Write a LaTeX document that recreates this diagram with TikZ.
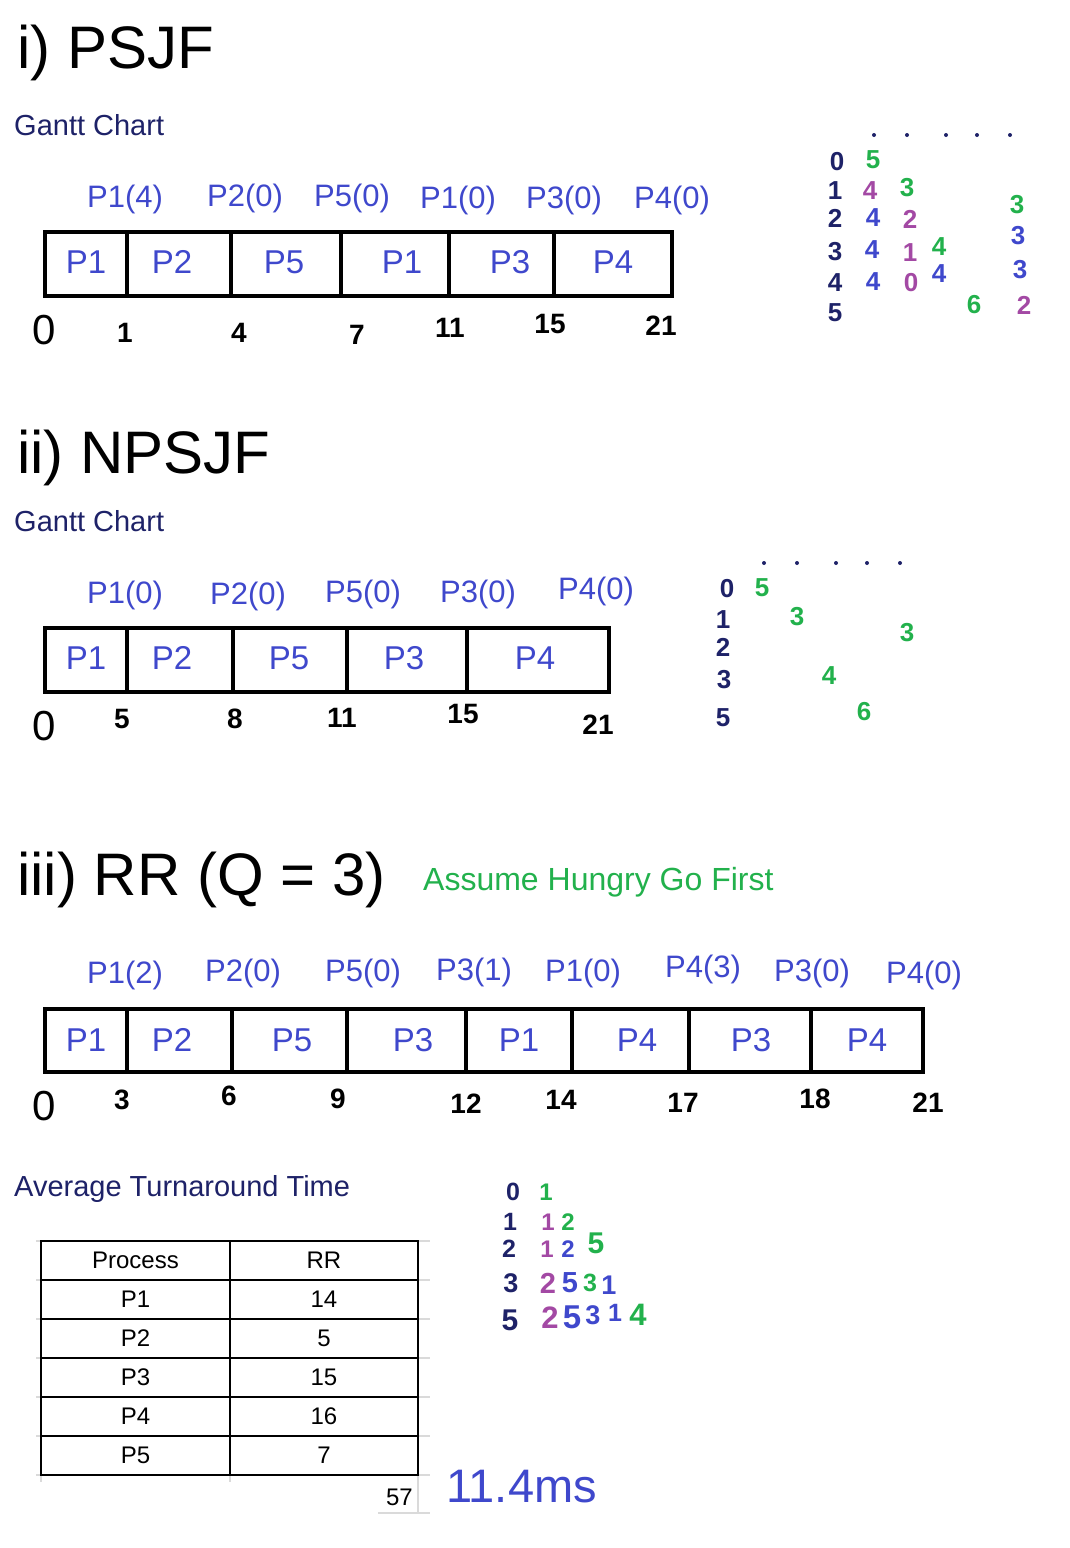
\documentclass[tikz,border=0pt]{standalone}
\usepackage{fontspec}
\setmainfont{Liberation Sans}
\definecolor{hblue}{RGB}{63,72,204}
\definecolor{navy}{RGB}{30,34,104}
\definecolor{hgreen}{RGB}{34,177,76}
\definecolor{hpurple}{RGB}{163,73,164}
\definecolor{gridgrey}{RGB}{218,218,218}
\newcommand\setfs[1]{\fontsize{#1}{#1}\selectfont}
\begin{document}
\begin{tikzpicture}[x=1pt,y=-1pt,
  titletext/.style={anchor=base west, inner sep=0, font=\setfs{60}},
  subtext/.style={anchor=base west, inner sep=0, text=navy, font=\setfs{29}},
  above/.style={inner sep=0, text=hblue, font=\setfs{31}},
  cell/.style={inner sep=0, text=hblue, font=\setfs{33}},
  ticklbl/.style={inner sep=0, font=\setfs{28}\bfseries},
  zero/.style={inner sep=0, font=\setfs{42}},
  dig/.style={inner sep=0, font=\setfs{26}\bfseries},
  gbox/.style={draw=black, line width=4.5pt},
  dotn/.style={circle, fill=navy, inner sep=0, minimum size=4pt},
  tabtext/.style={inner sep=0, font=\setfs{24}},
  tline/.style={line width=2pt},
  gline/.style={gridgrey, line width=1.5pt}]
\useasboundingbox[fill=white] (0,0) rectangle (1070,1548);

% ---------------- i) PSJF ----------------
\node[titletext] (t1) at (17,68) {i) PSJF};
\node[subtext] (s1) at (14,135) {Gantt Chart};
\foreach \t/\x/\y [count=\i] in {P1(4)/125/199, P2(0)/245/198, P5(0)/352/198, P1(0)/458/200, P3(0)/564/200, P4(0)/672/200}
  \node[above, name=a1\i] at (\x,\y) {\t};
\draw[gbox] (45,232) rectangle (672,296);
\foreach \x in {127,231,341,449,554} \draw[gbox] (\x,232) -- (\x,296);
\foreach \t/\x [count=\i] in {P1/86, P2/172, P5/284, P1/402, P3/510, P4/613}
  \node[cell, name=c1\i] at (\x,262) {\t};
\node[zero] (z1) at (44,330) {0};
\foreach \t/\x/\y [count=\i] in {1/125/333, 4/239/333, 7/357/335, 11/450/328, 15/550/324, 21/661/326}
  \node[ticklbl, name=k1\i] at (\x,\y) {\t};
% side working
\foreach \x [count=\i] in {874,907,946,977,1010} \node[dotn, name=d1\i] at (\x,135) {};
\foreach \c/\t/\x/\y [count=\i] in {
  navy/0/837/162, navy/1/835/191, navy/2/835/218, navy/3/835/252, navy/4/835/283, navy/5/835/313,
  hgreen/5/873/160, hpurple/4/870/191, hgreen/3/907/188, hblue/4/873/218, hpurple/2/910/219,
  hgreen/3/1017/205, hblue/4/872/250, hpurple/1/910/253, hgreen/4/939/247, hblue/4/873/282,
  hpurple/0/911/283, hblue/4/939/274, hgreen/6/974/305, hblue/3/1018/236, hblue/3/1020/270,
  hpurple/2/1024/305}
  \node[dig, text=\c, name=w1\i] at (\x,\y) {\t};

% ---------------- ii) NPSJF ----------------
\node[titletext] (t2) at (17,473) {ii) NPSJF};
\node[subtext] (s2) at (14,531) {Gantt Chart};
\foreach \t/\x/\y [count=\i] in {P1(0)/125/595, P2(0)/248/596, P5(0)/363/594, P3(0)/478/594, P4(0)/596/591}
  \node[above, name=a2\i] at (\x,\y) {\t};
\draw[gbox] (45,628) rectangle (609,692);
\foreach \x in {127,233,347,467} \draw[gbox] (\x,628) -- (\x,692);
\foreach \t/\x [count=\i] in {P1/86, P2/172, P5/289, P3/404, P4/535}
  \node[cell, name=c2\i] at (\x,658) {\t};
\node[zero] (z2) at (44,726) {0};
\foreach \t/\x/\y [count=\i] in {5/122/719, 8/235/719, 11/342/718, 15/463/714, 21/598/725}
  \node[ticklbl, name=k2\i] at (\x,\y) {\t};
\foreach \x [count=\i] in {764,797,836,867,900} \node[dotn, name=d2\i] at (\x,563) {};
\foreach \c/\t/\x/\y [count=\i] in {
  navy/0/727/589, navy/1/723/620, navy/2/723/647, navy/3/724/680, navy/5/723/718,
  hgreen/5/762/588, hgreen/3/797/617, hgreen/3/907/633, hgreen/4/829/676, hgreen/6/864/712}
  \node[dig, text=\c, name=w2\i] at (\x,\y) {\t};

% ---------------- iii) RR ----------------
\node[titletext] (t3) at (17,895) {iii) RR (Q = 3)};
\node[anchor=base west, inner sep=0, text=hgreen, font=\setfs{32}] (hg) at (423,890) {Assume Hungry Go First};
\foreach \t/\x/\y [count=\i] in {P1(2)/125/975, P2(0)/243/973, P5(0)/363/973, P3(1)/474/972, P1(0)/583/973, P4(3)/703/969, P3(0)/812/973, P4(0)/924/975}
  \node[above, name=a3\i] at (\x,\y) {\t};
\draw[gbox] (45,1009) rectangle (923,1072);
\foreach \x in {127,232,347,466,572,689,811} \draw[gbox] (\x,1009) -- (\x,1072);
\foreach \t/\x [count=\i] in {P1/86, P2/172, P5/292, P3/413, P1/519, P4/637, P3/751, P4/867}
  \node[cell, name=c3\i] at (\x,1040) {\t};
\node[zero] (z3) at (44,1106) {0};
\foreach \t/\x/\y [count=\i] in {3/122/1100, 6/229/1096, 9/338/1099, 12/466/1104, 14/561/1100, 17/683/1103, 18/815/1099, 21/928/1103}
  \node[ticklbl, name=k3\i] at (\x,\y) {\t};

% ---------------- Average Turnaround Time ----------------
\node[subtext] (s3) at (14,1196) {Average Turnaround Time};
% light grid extensions
\foreach \y in {1241,1280,1319,1358,1397,1436,1475} {
  \draw[gline] (36,\y) -- (41,\y);
  \draw[gline] (418,\y) -- (430,\y);
}
\draw[gline] (41,1475) -- (41,1482);
\draw[gline] (230,1475) -- (230,1482);
\draw[gline] (418,1475) -- (418,1513);
\draw[gline] (378,1513) -- (430,1513);
% table
\draw[tline] (41,1241) rectangle (418,1475);
\foreach \y in {1280,1319,1358,1397,1436} \draw[tline] (41,\y) -- (418,\y);
\draw[tline] (230,1241) -- (230,1475);
\foreach \a/\b/\y [count=\i] in {Process/RR/1260.5, P1/14/1299.5, P2/5/1338.5, P3/15/1377.5, P4/16/1416.5, P5/7/1455.5} {
  \node[tabtext, name=ta\i] at (135.5,\y) {\a};
  \node[tabtext, name=tb\i] at (324,\y) {\b};
}
\node[tabtext, anchor=base east] (sum) at (413,1505) {57};
\node[anchor=base west, inner sep=0, text=hblue, font=\setfs{47}] (avg) at (446,1502) {11.4ms};
% side working
\foreach \c/\t/\x/\y/\s [count=\i] in {
  navy/0/513/1192/25, navy/1/510/1222/25, navy/2/509/1249/25, navy/3/511/1283/27, navy/5/510/1320/30,
  hgreen/1/546/1192/24, hpurple/1/548/1222/24, hgreen/2/568/1222/24,
  hpurple/1/547/1249/24, hblue/2/568/1249/24, hgreen/5/596/1243/30,
  hpurple/2/548/1283/29, hblue/5/570/1283/29, hgreen/3/590/1283/25, hblue/1/609/1285/27,
  hpurple/2/550/1318/31, hblue/5/572/1317/33, hblue/3/593/1315/27, hblue/1/615/1313/25, hgreen/4/638/1315/31}
  \node[inner sep=0, font=\setfs{\s}\bfseries, text=\c, name=w3\i] at (\x,\y) {\t};
\end{tikzpicture}
\end{document}
